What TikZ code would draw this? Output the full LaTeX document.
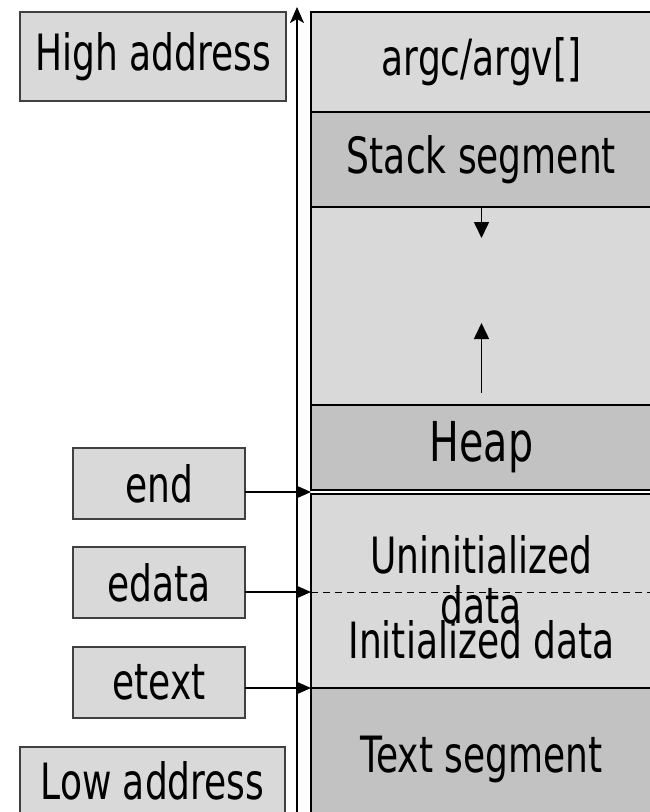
\documentclass[tikz,border=0pt]{standalone}
\usepackage{fontspec}
\usepackage{tikz}
\usetikzlibrary{arrows.meta, positioning, calc}
\newfontfamily\memfont{DejaVu Sans}[FakeStretch=0.72]
\definecolor{memlight}{HTML}{D9D9D9}
\definecolor{memdark}{HTML}{C2C2C2}
\definecolor{memedge}{HTML}{404040}

\begin{document}
\begin{tikzpicture}[
      x=1pt, y=-1pt,
      seg/.style={draw=black, line width=1.8pt, minimum width=341pt,
                  inner sep=0pt, outer sep=0pt,
                  font=\memfont\fontsize{50}{55}\selectfont},
      tag/.style={draw=memedge, line width=1.4pt, fill=memlight,
                  inner sep=0pt, outer sep=0pt,
                  font=\memfont\fontsize{50}{55}\selectfont},
      lbl/.style={font=\memfont\fontsize{50}{55}\selectfont, anchor=base},
      ptr/.style={-{Triangle[length=14pt, width=12pt]}, line width=1.4pt},
      growarr/.style={-{Triangle[length=16pt, width=15pt]}, line width=1.6pt},
      addrarr/.style={-{Stealth[length=16pt, width=14pt, inset=4pt]}, line width=2pt},
    ]
    \path[use as bounding box] (0,0) rectangle (650,812);
    \clip (0,0) rectangle (650,812);

    % Memory column, high to low
    \node[seg, fill=memlight, minimum height=100pt, anchor=north west] (argv)
      at (311,12) {argc/argv[]};
    \node[seg, fill=memdark, minimum height=95pt, below=0pt of argv] (stack)
      {Stack segment};
    \node[seg, fill=memlight, minimum height=198pt, below=0pt of stack] (free) {};
    \node[seg, fill=memdark, minimum height=85pt, below=0pt of free,
          font=\memfont\fontsize{55}{60}\selectfont] (heap) {Heap};
    \node[seg, fill=memlight, minimum height=194pt, below=4pt of heap] (data) {};
    \node[seg, fill=memdark, minimum height=142pt, below=0pt of data] (code)
      {Text segment};

    % bss / data split
    \coordinate (split) at ($(data.north west)+(0,98)$);
    \draw[line width=1pt, dash pattern=on 7pt off 5pt] (split) -- (split -| data.east);
    \node[lbl] (bss) at ($(data.north)+(0,79)$) {Uninitialized};
    \node[lbl] (bss2) at ($(data.north)+(0,129)$) {data};
    \node[lbl] (init) at ($(data.north)+(0,164)$) {Initialized data};

    % Stack and heap growth
    \draw[growarr] (stack.south) -- ++(0,31);
    \draw[growarr] ($(heap.north)+(0,-12)$) -- ++(0,-70);

    % Address axis
    \coordinate (axbot) at (297,830);
    \coordinate (axtop) at (297,7);
    \draw[addrarr] (axbot) -- (axtop);

    % Address labels
    \node[tag, minimum width=266pt, minimum height=89pt] (high) at (153,56.5)
      {High address};
    \node[tag, minimum width=265pt, minimum height=100pt, anchor=north west] (low)
      at (20,747) {};
    \node[lbl] (lowtxt) at ($(low.north)+(0,52)$) {Low address};

    % Symbols pointing into the column
    \node[tag, minimum width=172pt, minimum height=71pt] (end) at (159,483.5) {end};
    \node[tag, minimum width=172pt, minimum height=71pt, below=28pt of end] (edata)
      {edata};
    \node[tag, minimum width=172pt, minimum height=71pt, below=29pt of edata] (etext)
      {etext};

    \coordinate (brk) at ($(heap.south west)!0.5!(data.north west)$);
    \draw[ptr] (end.east |- brk)     -- (brk);
    \draw[ptr] (edata.east |- split) -- (split);
    \draw[ptr] (etext.east |- code.north west) -- (code.north west);
  \end{tikzpicture}
\end{document}
